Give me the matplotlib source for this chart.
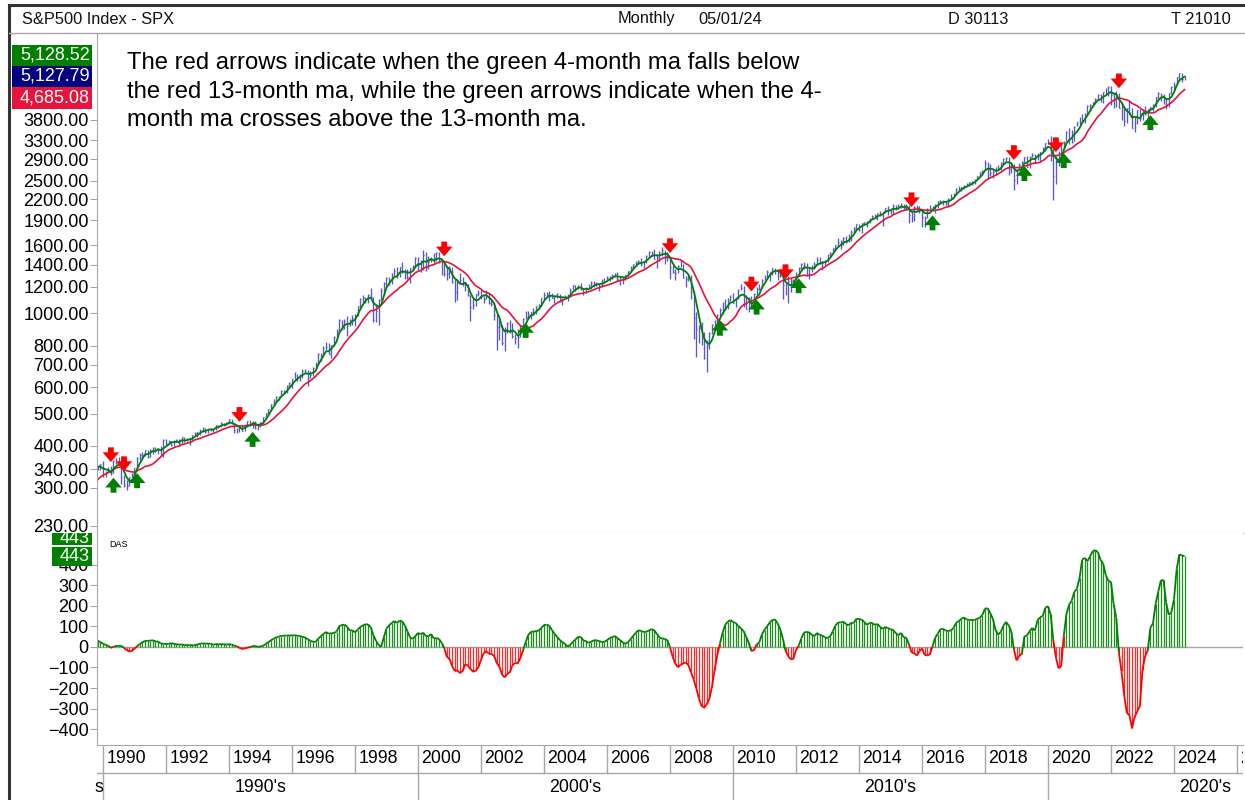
import numpy as np
import pandas as pd
import matplotlib
matplotlib.use('Agg')
import matplotlib.pyplot as plt
from matplotlib.collections import LineCollection
from matplotlib.patches import Rectangle

plt.rcParams['font.family'] = ['Liberation Sans', 'DejaVu Sans']

# S&P 500 monthly closes, Jan 1988 .. May 2024 (one row per year)
closes = [
    257.07, 267.82, 258.89, 261.33, 262.16, 273.50, 272.02, 261.52, 271.91, 278.97, 273.70, 277.72,
    297.47, 288.86, 294.87, 309.64, 320.52, 317.98, 346.08, 351.45, 349.15, 340.36, 345.99, 353.40,
    329.08, 331.89, 339.94, 330.80, 361.23, 358.02, 356.15, 322.56, 306.05, 304.00, 322.22, 330.22,
    343.93, 367.07, 375.22, 375.35, 389.83, 371.16, 387.81, 395.43, 387.86, 392.46, 375.22, 417.09,
    408.79, 412.70, 403.69, 414.95, 415.35, 408.14, 424.21, 414.03, 417.80, 418.68, 431.35, 435.71,
    438.78, 443.38, 451.67, 440.19, 450.19, 450.53, 448.13, 463.56, 458.93, 467.83, 461.79, 466.45,
    481.61, 467.14, 445.77, 450.91, 456.50, 444.27, 458.26, 475.49, 462.69, 472.35, 453.69, 459.27,
    470.42, 487.39, 500.71, 514.71, 533.40, 544.75, 562.06, 561.88, 584.41, 581.50, 605.37, 615.93,
    636.02, 640.43, 645.50, 654.17, 669.12, 670.63, 639.95, 651.99, 687.33, 705.27, 757.02, 740.74,
    786.16, 790.82, 757.12, 801.34, 848.28, 885.14, 954.31, 899.47, 947.28, 914.62, 955.40, 970.43,
    980.28, 1049.34, 1101.75, 1111.75, 1090.82, 1133.84, 1120.67, 957.28, 1017.01, 1098.67, 1163.63, 1229.23,
    1279.64, 1238.33, 1286.37, 1335.18, 1301.84, 1372.71, 1328.72, 1320.41, 1282.71, 1362.93, 1388.91, 1469.25,
    1394.46, 1366.42, 1498.58, 1452.43, 1420.60, 1454.60, 1430.83, 1517.68, 1436.51, 1429.40, 1314.95, 1320.28,
    1366.01, 1239.94, 1160.33, 1249.46, 1255.82, 1224.42, 1211.23, 1133.58, 1040.94, 1059.78, 1139.45, 1148.08,
    1130.20, 1106.73, 1147.39, 1076.92, 1067.14, 989.82, 911.62, 916.07, 815.28, 885.76, 936.31, 879.82,
    855.70, 841.15, 848.18, 916.92, 963.59, 974.50, 990.31, 1008.01, 995.97, 1050.71, 1058.20, 1111.92,
    1131.13, 1144.94, 1126.21, 1107.30, 1120.68, 1140.84, 1101.72, 1104.24, 1114.58, 1130.20, 1173.82, 1211.92,
    1181.27, 1203.60, 1180.59, 1156.85, 1191.50, 1191.33, 1234.18, 1220.33, 1228.81, 1207.01, 1249.48, 1248.29,
    1280.08, 1280.66, 1294.83, 1310.61, 1270.09, 1270.20, 1276.66, 1303.82, 1335.85, 1377.94, 1400.63, 1418.30,
    1438.24, 1406.82, 1420.86, 1482.37, 1530.62, 1503.35, 1455.27, 1473.99, 1526.75, 1549.38, 1481.14, 1468.36,
    1378.55, 1330.63, 1322.70, 1385.59, 1400.38, 1280.00, 1267.38, 1282.83, 1166.36, 968.75, 896.24, 903.25,
    825.88, 735.09, 797.87, 872.81, 919.14, 919.32, 987.48, 1020.62, 1057.08, 1036.19, 1095.63, 1115.10,
    1073.87, 1104.49, 1169.43, 1186.69, 1089.41, 1030.71, 1101.60, 1049.33, 1141.20, 1183.26, 1180.55, 1257.64,
    1286.12, 1327.22, 1325.83, 1363.61, 1345.20, 1320.64, 1292.28, 1218.89, 1131.42, 1253.30, 1246.96, 1257.60,
    1312.41, 1365.68, 1408.47, 1397.91, 1310.33, 1362.16, 1379.32, 1406.58, 1440.67, 1412.16, 1416.18, 1426.19,
    1498.11, 1514.68, 1569.19, 1597.57, 1630.74, 1606.28, 1685.73, 1632.97, 1681.55, 1756.54, 1805.81, 1848.36,
    1782.59, 1859.45, 1872.34, 1883.95, 1923.57, 1960.23, 1930.67, 2003.37, 1972.29, 2018.05, 2067.56, 2058.90,
    1994.99, 2104.50, 2067.89, 2085.51, 2107.39, 2063.11, 2103.84, 1972.18, 1920.03, 2079.36, 2080.41, 2043.94,
    1940.24, 1932.23, 2059.74, 2065.30, 2096.95, 2098.86, 2173.60, 2170.95, 2168.27, 2126.15, 2198.81, 2238.83,
    2278.87, 2363.64, 2362.72, 2384.20, 2411.80, 2423.41, 2470.30, 2471.65, 2519.36, 2575.26, 2647.58, 2673.61,
    2823.81, 2713.83, 2640.87, 2648.05, 2705.27, 2718.37, 2816.29, 2901.52, 2913.98, 2711.74, 2760.17, 2506.85,
    2704.10, 2784.49, 2834.40, 2945.83, 2752.06, 2941.76, 2980.38, 2926.46, 2976.74, 3037.56, 3140.98, 3230.78,
    3225.52, 2954.22, 2584.59, 2912.43, 3044.31, 3100.29, 3271.12, 3500.31, 3363.00, 3269.96, 3621.63, 3756.07,
    3714.24, 3811.15, 3972.89, 4181.17, 4204.11, 4297.50, 4395.26, 4522.68, 4307.54, 4605.38, 4567.00, 4766.18,
    4515.55, 4373.94, 4530.41, 4131.93, 4132.15, 3785.38, 4130.29, 3955.00, 3585.62, 3871.98, 4080.11, 3839.50,
    4076.60, 3970.15, 4109.31, 4169.48, 4179.83, 4450.38, 4588.96, 4507.66, 4288.05, 4193.80, 4567.80, 4769.83,
    4845.65, 5096.27, 5254.35, 5035.69, 5127.79,
]

# monthly highs / lows, Oct 1989 .. May 2024
highs = [
    360.4, 347.2, 354.1,
    360.6, 336.1, 344.5, 347.3, 362.3, 369.0, 369.8, 356.2, 326.4, 315.8, 323.5, 332.3,
    344.0, 371.2, 380.5, 384.6, 389.9, 389.1, 390.6, 397.0, 396.0, 394.9, 398.3, 418.3,
    420.8, 417.0, 413.8, 416.3, 419.4, 418.5, 425.0, 425.1, 423.0, 420.2, 431.4, 441.3,
    439.6, 449.5, 456.8, 452.3, 453.5, 452.8, 450.3, 463.6, 463.6, 470.5, 469.3, 471.1,
    482.9, 482.9, 469.1, 453.1, 458.6, 462.2, 459.9, 476.1, 476.9, 474.0, 474.6, 466.4,
    472.0, 489.2, 503.2, 515.2, 533.9, 551.1, 564.5, 565.0, 586.5, 587.4, 608.7, 621.3,
    636.2, 664.2, 656.9, 656.5, 680.3, 680.3, 675.9, 670.7, 690.9, 714.1, 758.0, 761.8,
    794.7, 817.7, 814.9, 805.5, 851.6, 898.7, 960.3, 954.3, 963.0, 983.1, 963.8, 986.3,
    992.7, 1050.0, 1110.0, 1130.5, 1122.1, 1138.6, 1190.6, 1121.2, 1066.0, 1102.0, 1192.9, 1244.9,
    1280.0, 1283.8, 1317.4, 1362.8, 1375.2, 1377.9, 1420.3, 1357.7, 1362.0, 1366.4, 1399.0, 1474.0,
    1478.0, 1444.6, 1552.9, 1527.2, 1481.5, 1474.6, 1517.3, 1525.2, 1530.1, 1448.6, 1438.5, 1389.1,
    1383.4, 1376.4, 1267.4, 1269.3, 1315.9, 1286.6, 1239.8, 1226.3, 1135.5, 1110.6, 1143.3, 1173.6,
    1177.0, 1130.2, 1173.0, 1147.8, 1106.6, 1070.7, 994.5, 965.0, 924.0, 907.4, 941.8, 954.3,
    935.1, 864.6, 895.9, 919.7, 965.4, 1015.3, 1015.4, 1011.0, 1040.3, 1053.8, 1063.7, 1112.6,
    1155.4, 1159.0, 1163.2, 1150.6, 1127.7, 1146.3, 1140.8, 1114.6, 1131.5, 1142.1, 1188.5, 1217.3,
    1217.9, 1212.4, 1229.1, 1191.9, 1199.6, 1219.6, 1245.2, 1245.9, 1243.1, 1233.3, 1270.6, 1275.8,
    1294.9, 1297.6, 1310.9, 1318.2, 1326.7, 1284.0, 1280.4, 1306.7, 1340.3, 1389.4, 1407.9, 1431.8,
    1441.6, 1461.6, 1438.9, 1498.0, 1535.6, 1540.6, 1555.9, 1503.9, 1538.7, 1576.1, 1545.8, 1523.6,
    1471.8, 1396.0, 1359.7, 1397.0, 1440.2, 1404.1, 1292.2, 1313.2, 1303.0, 1167.0, 1007.5, 918.9,
    943.9, 877.9, 833.0, 876.1, 930.2, 956.2, 996.7, 1039.5, 1080.2, 1101.4, 1113.7, 1130.4,
    1150.5, 1112.4, 1180.2, 1219.8, 1206.2, 1131.2, 1121.0, 1129.2, 1148.9, 1196.1, 1227.1, 1262.6,
    1302.7, 1344.1, 1332.3, 1366.6, 1370.6, 1345.2, 1356.5, 1307.4, 1229.3, 1292.7, 1277.6, 1269.4,
    1333.5, 1378.0, 1419.2, 1422.4, 1415.3, 1363.5, 1391.7, 1426.7, 1474.5, 1471.0, 1434.3, 1448.0,
    1509.9, 1530.9, 1570.3, 1597.6, 1687.2, 1654.2, 1698.8, 1709.7, 1729.9, 1775.2, 1813.6, 1849.4,
    1850.8, 1867.9, 1884.0, 1897.3, 1924.0, 1968.2, 1991.4, 2005.0, 2019.3, 2018.2, 2075.8, 2093.6,
    2064.4, 2119.6, 2117.5, 2125.9, 2134.7, 2129.9, 2132.8, 2113.0, 2021.0, 2094.3, 2116.5, 2104.3,
    2038.2, 1963.0, 2072.2, 2111.1, 2103.5, 2120.6, 2177.1, 2193.8, 2187.9, 2169.6, 2214.1, 2277.5,
    2301.0, 2371.5, 2401.0, 2398.2, 2418.7, 2453.8, 2484.0, 2490.9, 2519.4, 2583.0, 2657.7, 2695.0,
    2872.9, 2836.0, 2801.9, 2717.5, 2742.1, 2791.5, 2848.0, 2916.5, 2940.9, 2939.9, 2815.2, 2800.2,
    2709.0, 2813.5, 2860.3, 2949.5, 2954.1, 2964.2, 3028.0, 3013.6, 3022.0, 3050.1, 3154.3, 3247.9,
    3337.8, 3393.5, 3136.7, 2954.9, 3068.7, 3233.1, 3280.0, 3514.8, 3588.1, 3549.9, 3646.0, 3760.2,
    3870.9, 3950.4, 3994.4, 4218.8, 4238.0, 4302.4, 4430.0, 4537.4, 4545.9, 4608.1, 4743.8, 4808.9,
    4818.6, 4595.3, 4637.3, 4593.5, 4307.7, 4177.5, 4140.1, 4325.3, 4119.3, 3905.4, 4080.1, 4101.0,
    4094.2, 4195.4, 4110.8, 4170.1, 4231.1, 4458.5, 4607.1, 4584.6, 4541.3, 4393.6, 4587.6, 4793.3,
    4931.1, 5111.1, 5264.9, 5264.0, 5140.0,
]
lows = [
    327.1, 338.0, 339.6,
    323.0, 322.1, 331.1, 327.8, 330.8, 354.0, 352.0, 307.4, 300.1, 294.5, 303.5, 322.2,
    309.4, 341.3, 362.0, 369.0, 372.3, 368.6, 370.9, 379.0, 384.3, 377.3, 372.2, 371.4,
    403.6, 404.5, 400.9, 399.0, 410.3, 401.9, 406.9, 410.9, 412.9, 401.9, 416.9, 429.1,
    426.3, 430.1, 440.8, 435.8, 437.2, 442.3, 441.2, 446.3, 451.0, 457.1, 457.8, 460.6,
    464.4, 464.0, 436.2, 435.9, 441.1, 441.9, 443.3, 457.1, 461.0, 454.0, 448.9, 445.6,
    457.2, 469.3, 481.5, 500.2, 510.4, 527.0, 544.0, 550.7, 560.5, 573.9, 578.1, 601.0,
    597.3, 633.7, 627.6, 624.0, 640.9, 660.5, 605.9, 638.2, 649.9, 684.2, 703.8, 716.7,
    737.0, 773.4, 756.1, 733.5, 798.0, 837.1, 886.0, 897.6, 898.0, 855.3, 912.4, 921.7,
    912.8, 980.5, 1038.0, 1076.7, 1074.4, 1074.7, 1114.3, 939.0, 939.9, 923.3, 1098.7, 1137.3,
    1205.5, 1211.7, 1222.6, 1282.8, 1277.3, 1281.0, 1324.8, 1268.2, 1268.4, 1233.7, 1348.0, 1386.9,
    1350.0, 1325.1, 1346.6, 1339.4, 1361.1, 1420.6, 1410.4, 1431.0, 1419.4, 1305.8, 1294.9, 1254.1,
    1274.6, 1228.3, 1081.2, 1092.0, 1232.4, 1203.0, 1165.5, 1124.9, 944.8, 1026.8, 1054.3, 1124.3,
    1101.4, 1074.4, 1103.7, 1063.5, 1049.0, 952.9, 775.7, 833.4, 800.6, 768.6, 872.0, 869.5,
    840.3, 806.3, 788.9, 847.9, 902.8, 963.4, 962.1, 960.8, 990.4, 995.8, 1031.2, 1053.4,
    1105.1, 1124.4, 1087.2, 1107.2, 1076.3, 1113.3, 1078.8, 1060.7, 1101.3, 1090.2, 1127.6, 1173.4,
    1163.8, 1181.0, 1176.9, 1136.2, 1146.2, 1188.3, 1183.6, 1201.1, 1205.4, 1168.2, 1201.1, 1246.6,
    1245.7, 1253.6, 1268.4, 1280.7, 1245.3, 1219.3, 1224.5, 1261.3, 1290.9, 1327.1, 1361.0, 1385.9,
    1404.0, 1389.4, 1364.0, 1416.4, 1476.7, 1484.2, 1454.3, 1370.6, 1439.3, 1489.6, 1406.1, 1435.7,
    1270.1, 1316.8, 1257.0, 1324.4, 1373.7, 1272.0, 1200.4, 1247.5, 1106.4, 839.8, 741.0, 815.7,
    804.5, 731.1, 666.8, 783.3, 866.1, 888.9, 869.3, 978.5, 992.0, 1020.2, 1029.4, 1085.9,
    1071.6, 1044.5, 1105.2, 1170.7, 1040.8, 1028.3, 1010.9, 1039.7, 1048.2, 1131.9, 1173.0, 1186.6,
    1256.0, 1275.1, 1249.1, 1299.2, 1311.8, 1258.1, 1282.9, 1101.5, 1136.2, 1074.8, 1158.7, 1202.4,
    1258.9, 1312.5, 1340.0, 1357.4, 1292.0, 1266.7, 1325.4, 1354.7, 1396.6, 1403.3, 1343.4, 1398.1,
    1426.2, 1485.0, 1501.5, 1536.0, 1581.3, 1560.3, 1604.6, 1627.5, 1633.4, 1646.5, 1746.2, 1768.0,
    1770.5, 1737.9, 1834.4, 1814.4, 1859.8, 1916.0, 1930.7, 1904.8, 1964.0, 1820.7, 2001.0, 1972.6,
    1988.1, 1980.9, 2039.7, 2048.4, 2067.9, 2056.3, 2044.0, 1867.0, 1871.9, 1893.7, 2019.4, 1993.3,
    1812.3, 1810.1, 1937.1, 2033.8, 2025.9, 1991.7, 2074.0, 2147.6, 2119.1, 2114.7, 2083.8, 2187.4,
    2245.1, 2266.9, 2322.3, 2329.0, 2352.7, 2405.7, 2407.7, 2417.4, 2446.6, 2520.4, 2557.5, 2605.5,
    2682.4, 2532.7, 2585.9, 2553.8, 2594.6, 2692.0, 2699.0, 2796.3, 2864.1, 2603.5, 2631.1, 2346.6,
    2444.0, 2681.8, 2722.3, 2848.6, 2750.5, 2728.8, 2952.2, 2822.1, 2891.9, 2855.9, 3050.7, 3070.3,
    3214.6, 2855.8, 2191.9, 2447.5, 2766.6, 2965.7, 3115.0, 3284.5, 3209.5, 3233.9, 3279.7, 3633.4,
    3662.7, 3725.6, 3723.3, 3955.3, 4056.9, 4164.4, 4233.1, 4367.7, 4305.9, 4278.9, 4560.0, 4495.1,
    4222.6, 4114.7, 4157.9, 4124.3, 3810.3, 3636.9, 3721.6, 3954.5, 3584.1, 3491.6, 3698.2, 3764.5,
    3794.3, 3943.1, 3808.9, 4049.4, 4048.3, 4166.2, 4385.1, 4335.3, 4238.6, 4103.8, 4167.2, 4546.5,
    4682.1, 4845.2, 5056.8, 4953.6, 5011.0,
]

price_ticks = [230, 300, 340, 400, 500, 600, 700, 800, 1000, 1200, 1400, 1600,
               1900, 2200, 2500, 2900, 3300, 3800]
das_ticks = [-400, -300, -200, -100, 0, 100, 200, 300, 400]
year_labels = list(range(1990, 2028, 2))
decade_labels = [1990, 2000, 2010, 2020]

# ---- derived series
c = pd.Series(closes)
t = 1988 + np.arange(len(closes)) / 12.0
ma4 = c.rolling(4).mean().values
ma13 = c.rolling(13).mean().values
das = ma4 - ma13
start = len(closes) - len(highs)          # first month with a bar (Oct 1989)
tb = t[start:]
cb = np.array(closes[start:])
hb = np.array(highs)
lb = np.array(lows)

GREEN = '#008000'
RED = '#e8133c'
BARC = '#5858c8'
GRID = '#a8a8a8'

fig = plt.figure(figsize=(12.45, 8), dpi=100)
W, H = 1245.0, 800.0


def box(l, tp, r, b):
    return [l / W, 1 - b / H, (r - l) / W, (b - tp) / H]


# overlay in pixel coordinates for frame, header and value boxes
bg = fig.add_axes([0, 0, 1, 1], zorder=5)
bg.set_xlim(0, W)
bg.set_ylim(H, 0)
bg.axis('off')
bg.patch.set_visible(False)
bg.plot([9, W], [5, 5], color='#333333', lw=2.2)
bg.plot([9, 9], [5, H], color='#333333', lw=2.2)
bg.plot([9, W], [33, 33], color=GRID, lw=1)
hdr = dict(fontsize=11.8, va='center', color='#111111')
bg.text(22, 19, 'S&P500 Index - SPX', ha='left', **hdr)
bg.text(618, 19, 'Monthly', ha='left', **hdr)
bg.text(698, 19, '05/01/24', ha='left', **hdr)
bg.text(948, 19, 'D 30113', ha='left', **hdr)
bg.text(1231, 19, 'T 21010', ha='right', **hdr)

# ---- price panel
ax = fig.add_axes(box(97, 33, 1243, 533))
ax.set_yscale('log')
ax.vlines(tb, lb, hb, color=BARC, lw=0.95)
ax.hlines(cb, tb, tb + 0.03, color=BARC, lw=0.9)
ax.plot(t, ma13, color=RED, lw=1.2)
ax.plot(t, ma4, color=GREEN, lw=1.3)

# crossover arrows
astyle = 'simple,head_length=0.5,head_width=0.85,tail_width=0.3'
sgn = np.sign(das)
for i in range(start + 1, len(das)):
    if np.isnan(das[i - 1]) or sgn[i] == sgn[i - 1]:
        continue
    j = i - start
    if sgn[i] < 0:
        ax.annotate('', xy=(t[i], hb[j] * 1.03), xytext=(t[i], hb[j] * 1.14),
                    arrowprops=dict(arrowstyle=astyle, color='#ff0000', mutation_scale=14,
                                    lw=0, shrinkA=0, shrinkB=0))
    else:
        ax.annotate('', xy=(t[i], lb[j] * 0.97), xytext=(t[i], lb[j] * 0.875),
                    arrowprops=dict(arrowstyle=astyle, color=GREEN, mutation_scale=14,
                                    lw=0, shrinkA=0, shrinkB=0))

ax.set_xlim(1989.81, 2026.19)
ax.set_ylim(219.1, 6930)
ax.set_yticks(price_ticks)
ax.set_yticklabels([f'{v:.2f}' for v in price_ticks])
ax.yaxis.set_minor_locator(plt.NullLocator())
ax.set_xticks([])
ax.tick_params(axis='y', length=5, color=GRID, labelsize=13, pad=1)
for s in ['top', 'right']:
    ax.spines[s].set_visible(False)
for s in ['left', 'bottom']:
    ax.spines[s].set_color(GRID)

ax.text(0.0265, 0.961,
        'The red arrows indicate when the green 4-month ma falls below\n'
        'the red 13-month ma, while the green arrows indicate when the 4-\n'
        'month ma crosses above the 13-month ma.',
        transform=ax.transAxes, ha='left', va='top', fontsize=17.2, linespacing=1.38)

# ---- DAS panel
ax2 = fig.add_axes(box(97, 533, 1243, 745))
td = t[start:]
dd = das[start:]
cols = np.where(dd >= 0, '#1f8f1f', '#ff2a2a')
ax2.vlines(td, 0, dd, colors=cols, lw=0.9)
pts = np.column_stack([td, dd])
segs = np.stack([pts[:-1], pts[1:]], axis=1)
seg_cols = np.where((dd[:-1] + dd[1:]) >= 0, GREEN, '#ff0000')
ax2.add_collection(LineCollection(segs, colors=seg_cols, lw=1.3))
ax2.axhline(0, color=GRID, lw=1, zorder=0)
ax2.set_xlim(1989.81, 2026.19)
ax2.set_ylim(-478, 556)
ax2.set_yticks(das_ticks)
ax2.set_xticks([])
ax2.tick_params(axis='y', length=5, color=GRID, labelsize=13, pad=1)
for s in ['top', 'right']:
    ax2.spines[s].set_visible(False)
for s in ['left', 'bottom']:
    ax2.spines[s].set_color(GRID)
ax2.text(0.011, 0.965, 'DAS', transform=ax2.transAxes, fontsize=6.5, va='top')

# ---- date axis
ax3 = fig.add_axes(box(97, 745, 1243, 800))
ax3.set_xlim(1989.81, 2026.19)
ax3.set_ylim(2, 0)
ax3.axis('off')
ax3.axhline(1.03, color=GRID, lw=1)
for y in year_labels:
    ax3.plot([y, y], [0, 1.03], color=GRID, lw=1)
    ax3.text(y + 0.1, 0.5, str(y), ha='left', va='center', fontsize=12.8, clip_on=True)
for d in decade_labels:
    ax3.plot([d, d], [1.03, 2], color=GRID, lw=1)
    ax3.text(d + 5, 1.55, f"{d}'s", ha='center', va='center', fontsize=12.8, clip_on=True)
ax3.text(1990, 1.55, 's', ha='right', va='center', fontsize=12.8)


# ---- value boxes
def vbox(l, tp, r, b, s, fc, ty=None):
    rect = Rectangle((l, tp), r - l, b - tp, fc=fc, ec='none', zorder=10)
    bg.add_patch(rect)
    txt = bg.text(r - 2, (tp + b) / 2 if ty is None else ty, s, ha='right', va='center',
                  color='white', fontsize=13, zorder=11, clip_on=True)
    txt.set_clip_path(rect)


vbox(12, 45, 92, 65.5, f'{ma4[-1]:,.2f}', GREEN)
vbox(12, 66, 92, 86.5, f'{closes[-1]:,.2f}', '#000080')
vbox(12, 87, 92, 108.5, f'{ma13[-1]:,.2f}', RED)
vbox(52, 533, 92, 545, f'{das[-1]:.0f}', GREEN, ty=538.5)
vbox(52, 546.5, 92, 566, f'{das[-1]:.0f}', GREEN)

fig.savefig('out.png', dpi=100)
